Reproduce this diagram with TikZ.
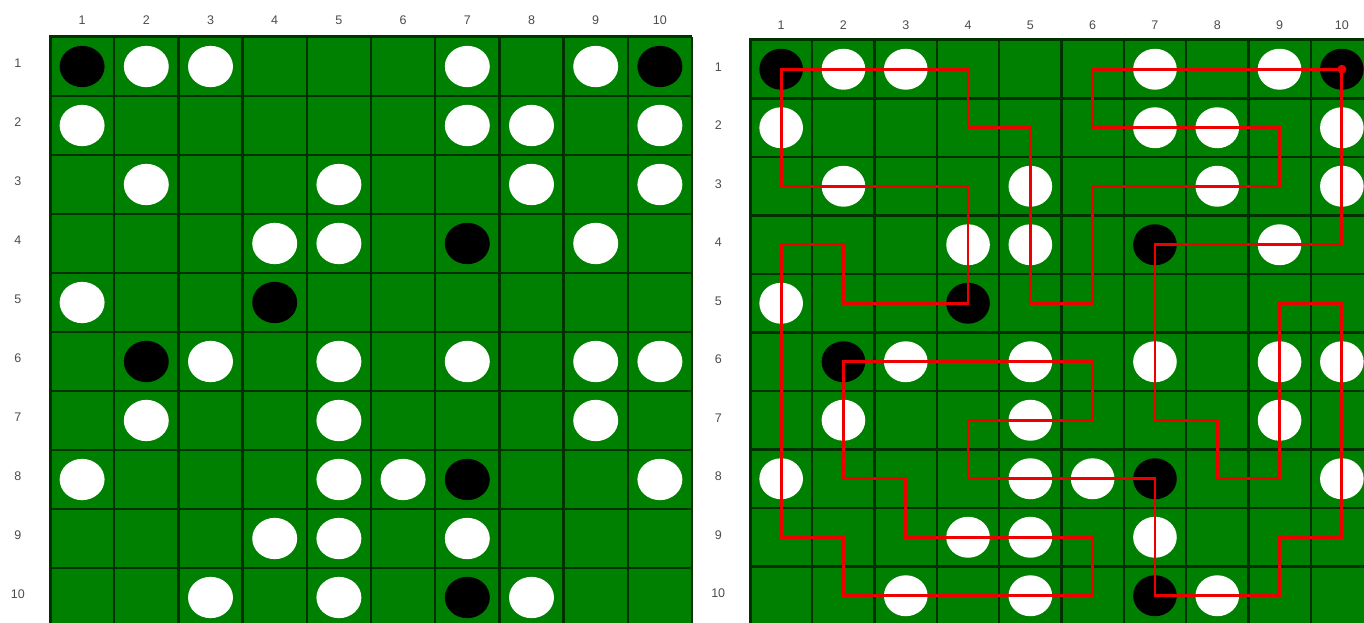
\documentclass[tikz,border=0pt]{standalone}
\usepackage{fontspec}
\setmainfont{Liberation Sans}
\usetikzlibrary{positioning}

\definecolor{boardgreen}{RGB}{0,128,0}
\definecolor{gridgreen}{RGB}{0,50,0}
\definecolor{walkred}{RGB}{238,0,0}

% stones as col/row, same on both boards
\newcommand{\whitestones}{2/1,3/1,7/1,9/1, 1/2,7/2,8/2,10/2, 2/3,5/3,8/3,10/3,
  4/4,5/4,9/4, 1/5, 3/6,5/6,7/6,9/6,10/6, 2/7,5/7,9/7, 1/8,5/8,6/8,10/8,
  4/9,5/9,7/9, 3/10,5/10,8/10}
\newcommand{\blackstones}{1/1,10/1, 7/4, 4/5, 2/6, 7/8, 7/10}

\begin{document}
\begin{tikzpicture}[font=\fontsize{12.5}{14}\selectfont,
    lbl/.style={text=black!70, inner sep=0pt},
    gridline/.style={gridgreen, line width=2.3pt},
    walk/.style={draw=walkred, line width=2.8pt, line join=miter},
    startdot/.style={circle, fill=walkred, inner sep=0pt, minimum size=9pt}]
    \useasboundingbox (0,0) rectangle (1364pt,-623pt);

        % Left board
        \begin{scope}[shift={(50pt,-37pt)}, x=64.2pt, y=-59pt]
            \fill[boardgreen] (0,0) rectangle (10,10);
            \foreach \i in {0,...,10} {
                \draw[gridline] (\i,0) -- (\i,10);
                \draw[gridline] (0,\i) -- (10,\i);
            }
            \draw[gridgreen, line width=3pt] (0,10) -- (0,0) -- (10,0);
            \foreach \c in {1,...,10}
                \node[lbl] (L-col-\c) at (\c-0.5,-0.29) {\c};
            \foreach \r in {1,...,10}
                \node[lbl] (L-row-\r) at (-0.5,\r-0.55) {\r};
            \foreach \c/\r in \whitestones
                \fill[white] (\c-0.5,\r-0.5) ellipse (0.35 and 0.35);
            \foreach \c/\r in \blackstones
                \fill[black] (\c-0.5,\r-0.5) ellipse (0.35 and 0.35);
        \end{scope}

        % Right board with the red walk
        \begin{scope}[shift={(750pt,-40pt)}, x=62.3pt, y=-58.5pt]
            \fill[boardgreen] (0,0) rectangle (10,10);
            \foreach \i in {0,...,10} {
                \draw[gridline] (\i,0) -- (\i,10);
                \draw[gridline] (0,\i) -- (10,\i);
            }
            \draw[gridgreen, line width=3pt] (0,10) -- (0,0) -- (10,0);
            \foreach \c in {1,...,10}
                \node[lbl] (R-col-\c) at (\c-0.5,-0.26) {\c};
            \foreach \r in {1,...,10}
                \node[lbl] (R-row-\r) at (-0.51,\r-0.54) {\r};
            \foreach \c/\r in \whitestones
                \fill[white] (\c-0.5,\r-0.5) ellipse (0.35 and 0.35);
            \foreach \c/\r in \blackstones
                \fill[black] (\c-0.5,\r-0.5) ellipse (0.35 and 0.35);
            % cell centres
            \foreach \c in {1,...,10}
                \foreach \r in {1,...,10}
                    \coordinate (R-\c-\r) at (\c-0.5,\r-0.5);
        \end{scope}

        \draw[walk] (R-10-1) -- (R-6-1) -- (R-6-2) -- (R-9-2) -- (R-9-3)
            -- (R-6-3) -- (R-6-5) -- (R-5-5) -- (R-5-2) -- (R-4-2) -- (R-4-1)
            -- (R-1-1) -- (R-1-3) -- (R-4-3) -- (R-4-5) -- (R-2-5) -- (R-2-4)
            -- (R-1-4) -- (R-1-9) -- (R-2-9) -- (R-2-10) -- (R-6-10) -- (R-6-9)
            -- (R-3-9) -- (R-3-8) -- (R-2-8) -- (R-2-6) -- (R-6-6) -- (R-6-7)
            -- (R-4-7) -- (R-4-8) -- (R-7-8) -- (R-7-10) -- (R-9-10) -- (R-9-9)
            -- (R-10-9) -- (R-10-5) -- (R-9-5) -- (R-9-8) -- (R-8-8) -- (R-8-7)
            -- (R-7-7) -- (R-7-4) -- (R-10-4) -- cycle;
        \node[startdot] (start) at (R-10-1) {};
\end{tikzpicture}
\end{document}
